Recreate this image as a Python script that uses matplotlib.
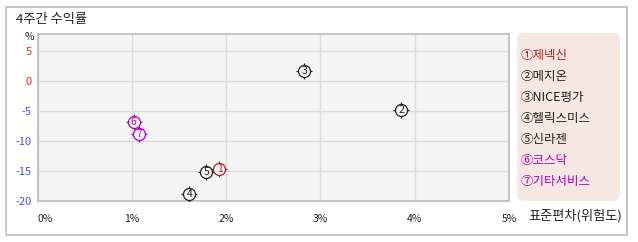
import matplotlib
matplotlib.use('Agg')
import matplotlib.pyplot as plt
from matplotlib.patches import Rectangle, FancyBboxPatch

plt.rcParams['font.family'] = ['Noto Sans CJK KR', 'DejaVu Sans']

names = ['제넥신', '메지온', 'NICE평가', '헬릭스미스', '신라젠', '코스닥', '기타서비스']
marks = ['①', '②', '③', '④', '⑤', '⑥', '⑦']
risk = [1.93, 3.86, 2.83, 1.61, 1.79, 1.02, 1.08]
ret = [-14.7, -4.95, 1.65, -18.8, -15.2, -6.8, -8.8]
colors = ['#b22222', '#222222', '#222222', '#222222', '#222222', '#b000c0', '#b000c0']
xticks = [0, 1, 2, 3, 4, 5]
yticks = [5, 0, -5, -10, -15, -20]

W, H = 638, 242
fig = plt.figure(figsize=(W / 100, H / 100), dpi=100)
fig.patch.set_facecolor('white')

# outer frame
fig.add_artist(Rectangle((6 / W, 1 - 235 / H), 621 / W, 228 / H, transform=fig.transFigure,
                         fill=False, edgecolor='#bbbbbb', lw=1.2))

ax = fig.add_axes([37.5 / W, 1 - 201 / H, 471.5 / W, 166.7 / H])
ax.set_facecolor('#f5f5f5')
ax.set_xlim(0, 5)
ax.set_ylim(-20, 7.7)
ax.set_xticks(xticks)
ax.set_yticks(yticks)
ax.set_xticklabels([f'{t}%' for t in xticks], fontsize=7.5, color='#222222')
ax.get_xticklabels()[0].set_ha('left')
ax.set_yticklabels([str(t) for t in yticks], fontsize=8)
for lab, t in zip(ax.get_yticklabels(), yticks):
    lab.set_color('#ff2020' if t >= 0 else '#4a4aff')
ax.tick_params(length=0, pad=4)
ax.tick_params(axis='x', pad=9)
ax.grid(True, color='#dcdcdc', lw=1)
ax.set_axisbelow(True)
for s in ax.spines.values():
    s.set_color('#bbbbbb')
    s.set_linewidth(1.2)

# circled markers with small tick marks
for i in range(len(names)):
    ax.scatter(risk[i], ret[i], marker='+', s=135, color=colors[i], lw=0.9, zorder=3)
    ax.scatter(risk[i], ret[i], marker='o', s=75, facecolor='#f5f5f5', edgecolor=colors[i],
               lw=0.9, zorder=4)
    ax.text(risk[i], ret[i], str(i + 1), ha='center', va='center', fontsize=7.5,
            color=colors[i], zorder=5)

fig.text(16 / W, 1 - 20 / H, '4주간 수익률', fontsize=9.5, va='center', ha='left', color='#222222')
fig.text(25 / W, 1 - 37 / H, '%', fontsize=7.5, va='center', ha='left', color='#222222')
fig.text(528 / W, 1 - 216 / H, '표준편차(위험도)', fontsize=9.5, va='center', ha='left', color='#222222')

# legend box (display coords = pixels)
fig.add_artist(FancyBboxPatch((517, H - 201), 103, 168, transform=None,
                              boxstyle='round,pad=0,rounding_size=7', facecolor='#f5e8e0',
                              edgecolor='none'))
for i in range(len(names)):
    y = 55 + i * 21.1
    fig.text(521 / W, 1 - y / H, marks[i] + names[i], fontsize=9, va='center', ha='left',
             color=colors[i])

fig.savefig('out.png', dpi=100)
